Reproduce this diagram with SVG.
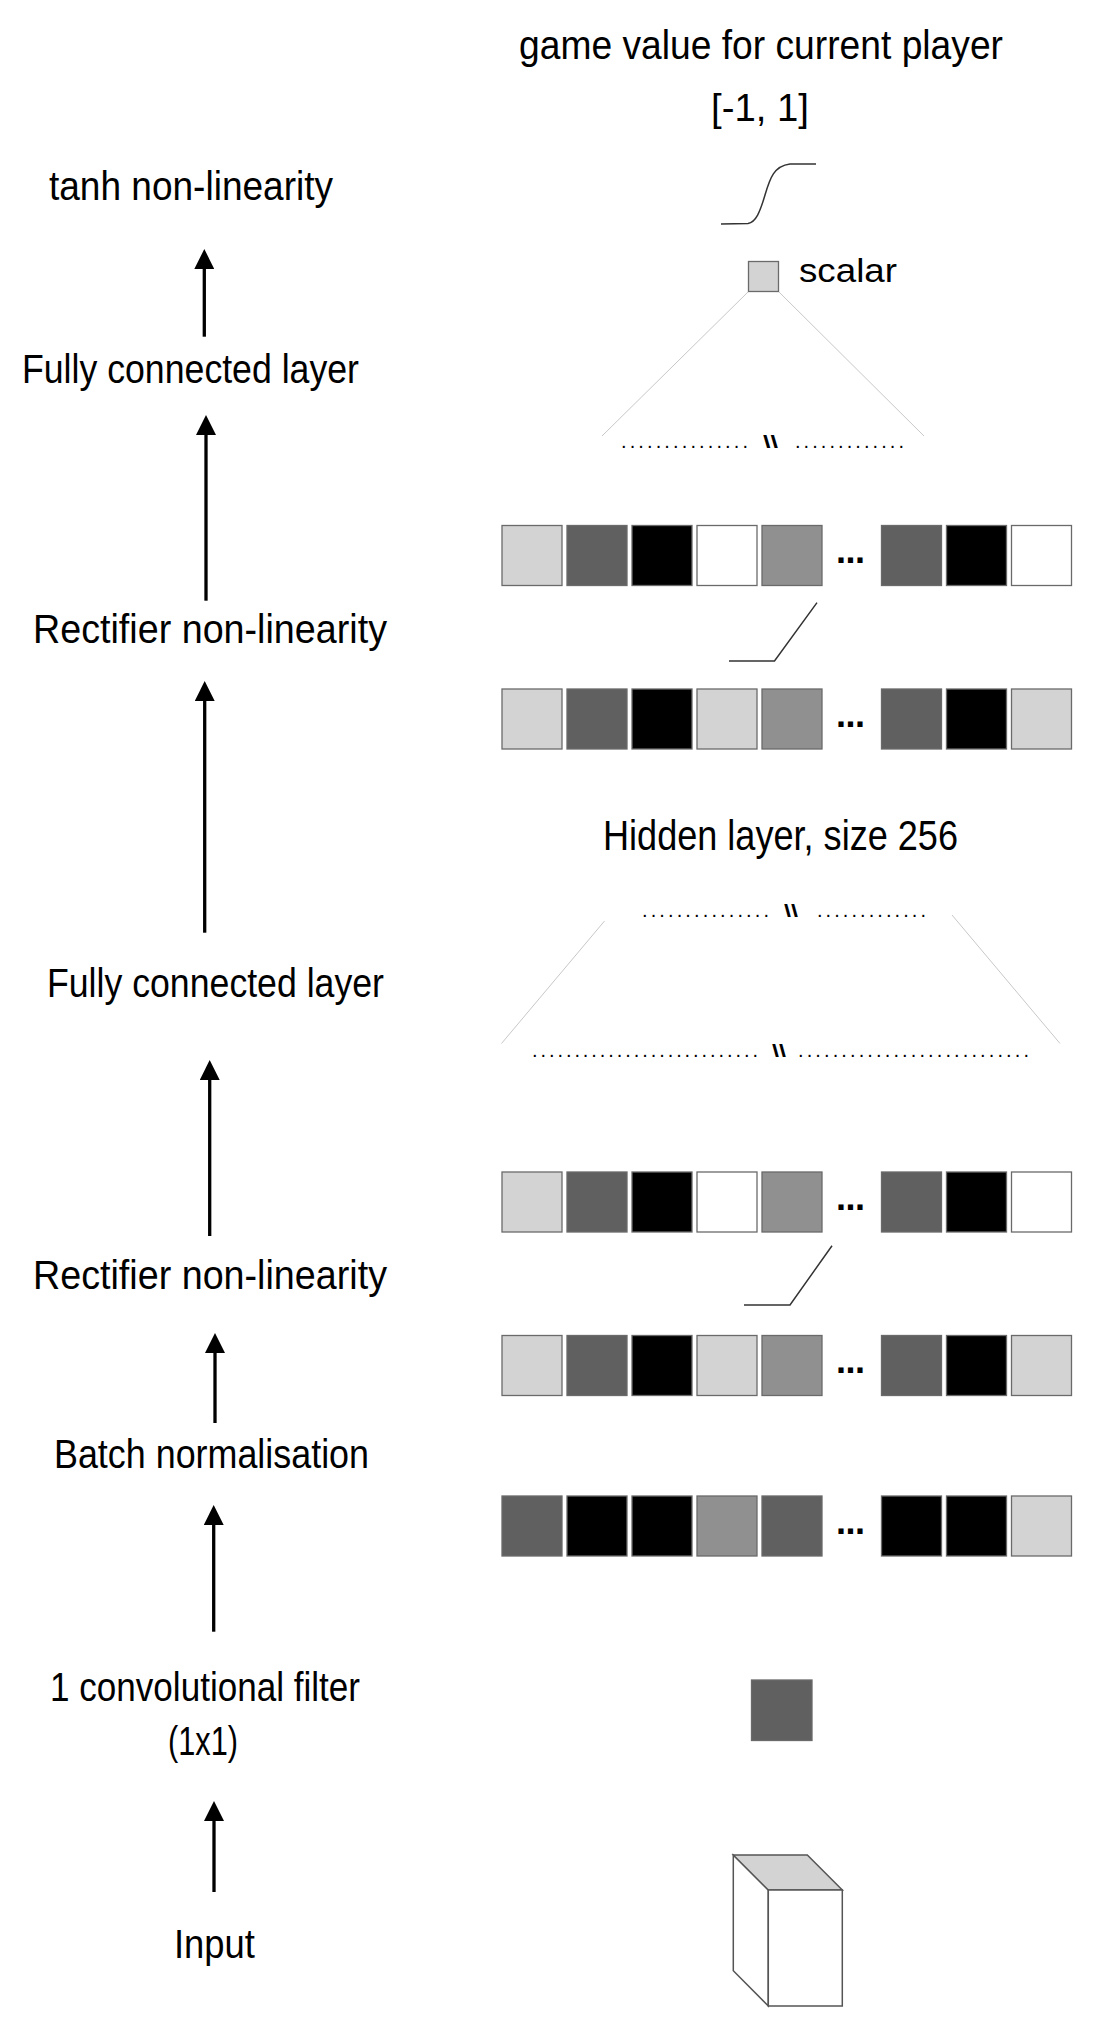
<svg xmlns="http://www.w3.org/2000/svg" width="1094" height="2039" viewBox="0 0 1094 2039">
<defs>
<style>
.lbl{font-family:"Liberation Sans",Arial,sans-serif;fill:#000;font-size:41px}
.dots{font-family:"Liberation Sans",Arial,sans-serif;fill:#000;font-size:20px}
.bs{font-family:"Liberation Sans",Arial,sans-serif;fill:#000;font-size:18px;font-weight:bold}
.ell{font-family:"Liberation Sans",Arial,sans-serif;fill:#000;font-size:36px;font-weight:bold}
.cell{stroke:#6a6a6a;stroke-width:1.3}
.lg{fill:#d3d3d3}.dg{fill:#606060}.bk{fill:#000}.wh{fill:#fff}.mg{fill:#909090}
.fan{stroke:#c8c8c8;stroke-width:1;fill:none}
.act{stroke:#333;stroke-width:1.5;fill:none}
.arr{stroke:#000;stroke-width:3.3;fill:none;marker-end:url(#head)}
.cube{stroke:#555;stroke-width:1.5}
</style>
<marker id="head" viewBox="0 0 20 20" markerWidth="20" markerHeight="20" markerUnits="userSpaceOnUse" refX="8" refY="10" orient="auto">
<path d="M0,0 L20,10 L0,20 z" fill="#000"/>
</marker>
</defs>
<rect width="1094" height="2039" fill="#fff"/>

<!-- left labels -->
<g id="lbl-tanh"><text class="lbl" x="49" y="200" textLength="284" lengthAdjust="spacingAndGlyphs">tanh non-linearity</text></g>
<g id="lbl-fc1"><text class="lbl" x="22" y="383" textLength="337" lengthAdjust="spacingAndGlyphs">Fully connected layer</text></g>
<g id="lbl-relu1"><text class="lbl" x="33" y="643" textLength="354" lengthAdjust="spacingAndGlyphs">Rectifier non-linearity</text></g>
<g id="lbl-fc2"><text class="lbl" x="47" y="997" textLength="337" lengthAdjust="spacingAndGlyphs">Fully connected layer</text></g>
<g id="lbl-relu2"><text class="lbl" x="33" y="1289" textLength="354" lengthAdjust="spacingAndGlyphs">Rectifier non-linearity</text></g>
<g id="lbl-bn"><text class="lbl" x="54" y="1468" textLength="315" lengthAdjust="spacingAndGlyphs">Batch normalisation</text></g>
<g id="lbl-conv"><text class="lbl" x="50" y="1701" textLength="310" lengthAdjust="spacingAndGlyphs">1 convolutional filter</text>
<text class="lbl" x="168" y="1755" textLength="70" lengthAdjust="spacingAndGlyphs">(1x1)</text></g>
<g id="lbl-input"><text class="lbl" x="174" y="1958" textLength="81" lengthAdjust="spacingAndGlyphs">Input</text></g>

<!-- connectors -->
<g id="connectors">
<path class="arr" d="M204.3,336.7 V261"/>
<path class="arr" d="M206,600.7 V427"/>
<path class="arr" d="M204.7,932.7 V693"/>
<path class="arr" d="M209.7,1236 V1072"/>
<path class="arr" d="M215,1423 V1345"/>
<path class="arr" d="M213.7,1631.7 V1517"/>
<path class="arr" d="M214,1892 V1813"/>
</g>

<!-- output head -->
<g id="title"><text class="lbl" x="519" y="59" textLength="484" lengthAdjust="spacingAndGlyphs">game value for current player</text>
<text class="lbl" x="711" y="121" style="font-size:39px" textLength="98" lengthAdjust="spacingAndGlyphs">[-1, 1]</text></g>
<g id="tanh-curve"><path class="act" d="M721,224 L748,223.5 C756,222 760,212 765,195 C770,178 774,166 790,164 L816,164"/></g>
<g id="scalar"><rect x="748.5" y="261.5" width="30" height="30" class="cell lg"/>
<text class="lbl" x="799" y="282" style="font-size:34px" textLength="98" lengthAdjust="spacingAndGlyphs">scalar</text></g>
<g id="fan-top">
<line class="fan" x1="748" y1="292" x2="602" y2="436"/>
<line class="fan" x1="779" y1="292" x2="924" y2="436"/>
<text class="dots" x="621" y="447.5" textLength="127" lengthAdjust="spacing">...............</text>
<text class="bs" x="763" y="448" textLength="15" lengthAdjust="spacingAndGlyphs">\\</text>
<text class="dots" x="795" y="447.5" textLength="109" lengthAdjust="spacing">.............</text>
</g>

<!-- row A -->
<g id="rowA" transform="translate(0,525.5)">
<rect class="cell lg" x="502" y="0" width="60" height="60"/>
<rect class="cell dg" x="567" y="0" width="60" height="60"/>
<rect class="cell bk" x="632" y="0" width="60" height="60"/>
<rect class="cell wh" x="697" y="0" width="60" height="60"/>
<rect class="cell mg" x="762" y="0" width="60" height="60"/>
<text class="ell" x="836" y="37.5" textLength="29" lengthAdjust="spacing">...</text>
<rect class="cell dg" x="881.5" y="0" width="60" height="60"/>
<rect class="cell bk" x="946.5" y="0" width="60" height="60"/>
<rect class="cell wh" x="1011.5" y="0" width="60" height="60"/>
</g>
<g id="relu-top"><path class="act" d="M729,661 L774.5,661 L817,602.6"/></g>
<!-- row B -->
<g id="rowB" transform="translate(0,689)">
<rect class="cell lg" x="502" y="0" width="60" height="60"/>
<rect class="cell dg" x="567" y="0" width="60" height="60"/>
<rect class="cell bk" x="632" y="0" width="60" height="60"/>
<rect class="cell lg" x="697" y="0" width="60" height="60"/>
<rect class="cell mg" x="762" y="0" width="60" height="60"/>
<text class="ell" x="836" y="37.5" textLength="29" lengthAdjust="spacing">...</text>
<rect class="cell dg" x="881.5" y="0" width="60" height="60"/>
<rect class="cell bk" x="946.5" y="0" width="60" height="60"/>
<rect class="cell lg" x="1011.5" y="0" width="60" height="60"/>
</g>

<g id="hidden-label"><text class="lbl" x="603" y="850" style="font-size:42px" textLength="355" lengthAdjust="spacingAndGlyphs">Hidden layer, size 256</text></g>
<g id="fan-hidden">
<text class="dots" x="642" y="916.5" textLength="127" lengthAdjust="spacing">...............</text>
<text class="bs" x="784" y="917" textLength="14" lengthAdjust="spacingAndGlyphs">\\</text>
<text class="dots" x="817" y="916.5" textLength="109" lengthAdjust="spacing">.............</text>
<line class="fan" x1="604.5" y1="921" x2="501.5" y2="1043.5"/>
<line class="fan" x1="952" y1="915" x2="1060" y2="1043.5"/>
<text class="dots" x="532" y="1056.5" textLength="226" lengthAdjust="spacing">...........................</text>
<text class="bs" x="772" y="1057" textLength="14" lengthAdjust="spacingAndGlyphs">\\</text>
<text class="dots" x="798" y="1056.5" textLength="231" lengthAdjust="spacing">...........................</text>
</g>

<!-- row C -->
<g id="rowC" transform="translate(0,1172)">
<rect class="cell lg" x="502" y="0" width="60" height="60"/>
<rect class="cell dg" x="567" y="0" width="60" height="60"/>
<rect class="cell bk" x="632" y="0" width="60" height="60"/>
<rect class="cell wh" x="697" y="0" width="60" height="60"/>
<rect class="cell mg" x="762" y="0" width="60" height="60"/>
<text class="ell" x="836" y="37.5" textLength="29" lengthAdjust="spacing">...</text>
<rect class="cell dg" x="881.5" y="0" width="60" height="60"/>
<rect class="cell bk" x="946.5" y="0" width="60" height="60"/>
<rect class="cell wh" x="1011.5" y="0" width="60" height="60"/>
</g>
<g id="relu-bottom"><path class="act" d="M744,1305 L790,1305 L832,1245.7"/></g>
<!-- row D -->
<g id="rowD" transform="translate(0,1335.5)">
<rect class="cell lg" x="502" y="0" width="60" height="60"/>
<rect class="cell dg" x="567" y="0" width="60" height="60"/>
<rect class="cell bk" x="632" y="0" width="60" height="60"/>
<rect class="cell lg" x="697" y="0" width="60" height="60"/>
<rect class="cell mg" x="762" y="0" width="60" height="60"/>
<text class="ell" x="836" y="37.5" textLength="29" lengthAdjust="spacing">...</text>
<rect class="cell dg" x="881.5" y="0" width="60" height="60"/>
<rect class="cell bk" x="946.5" y="0" width="60" height="60"/>
<rect class="cell lg" x="1011.5" y="0" width="60" height="60"/>
</g>
<!-- row E -->
<g id="rowE" transform="translate(0,1496)">
<rect class="cell dg" x="502" y="0" width="60" height="60"/>
<rect class="cell bk" x="567" y="0" width="60" height="60"/>
<rect class="cell bk" x="632" y="0" width="60" height="60"/>
<rect class="cell mg" x="697" y="0" width="60" height="60"/>
<rect class="cell dg" x="762" y="0" width="60" height="60"/>
<text class="ell" x="836" y="37.5" textLength="29" lengthAdjust="spacing">...</text>
<rect class="cell bk" x="881.5" y="0" width="60" height="60"/>
<rect class="cell bk" x="946.5" y="0" width="60" height="60"/>
<rect class="cell lg" x="1011.5" y="0" width="60" height="60"/>
</g>

<g id="conv-filter"><rect class="cell dg" x="751.5" y="1680" width="60.5" height="60.5"/></g>

<g id="input-cube">
<polygon class="cube" fill="#fff" points="733.3,1855 768.3,1890 768.3,2006 733.3,1970.7"/>
<polygon class="cube" fill="#d3d3d3" points="733.3,1855 807.3,1855 842.3,1890 768.3,1890"/>
<rect class="cube" fill="#fff" x="768.3" y="1890" width="74" height="116"/>
</g>
</svg>
